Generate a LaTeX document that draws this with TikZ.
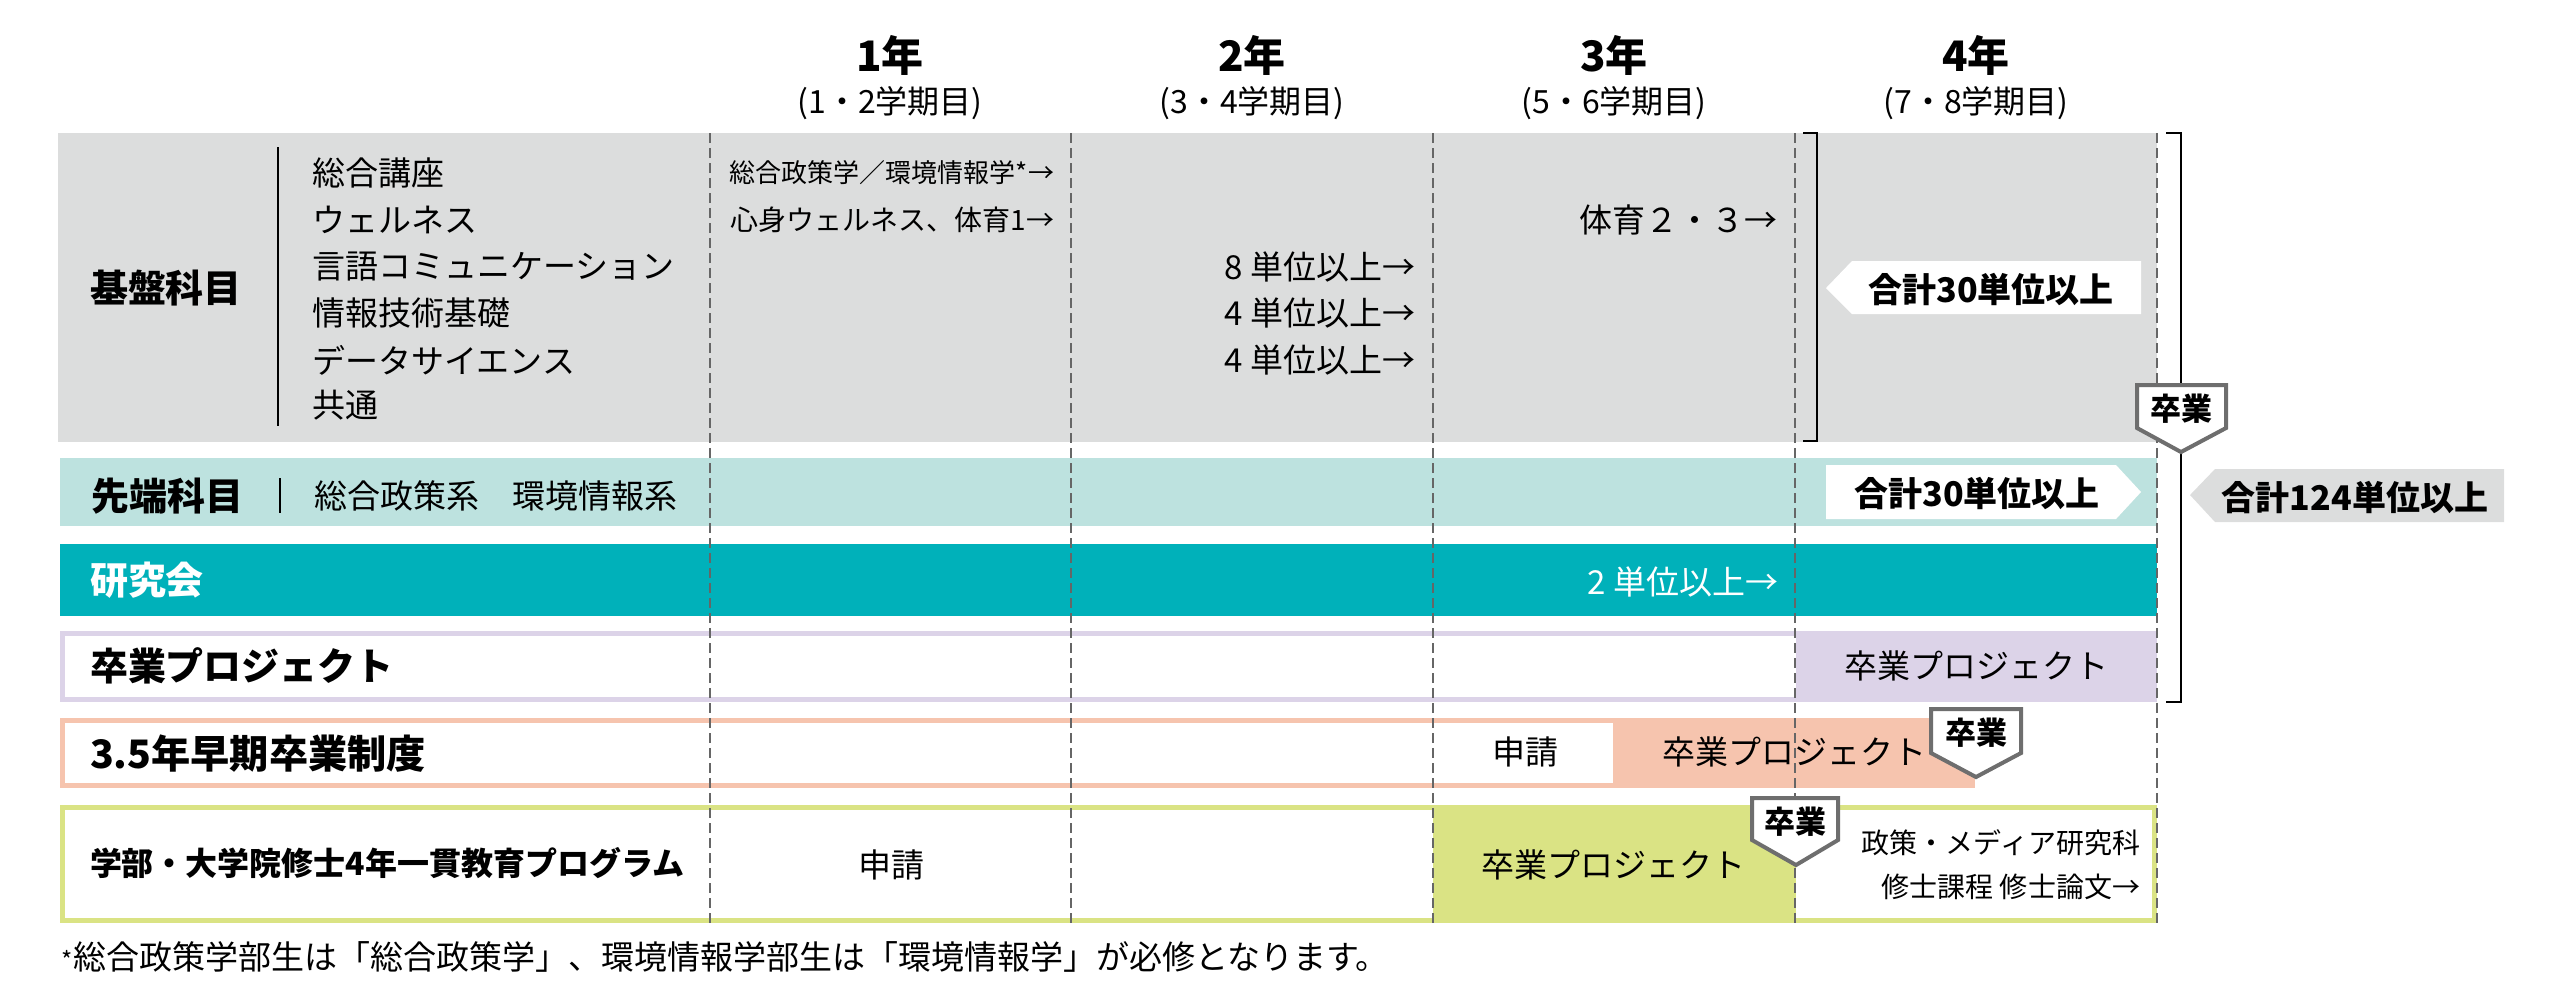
\documentclass[tikz,border=0pt]{standalone}
\usepackage{fontspec}
\setmainfont{Noto Sans CJK JP}
\usepackage{tikz}
\definecolor{kibangray}{HTML}{DCDDDD}
\definecolor{sentanteal}{HTML}{BDE2DF}
\definecolor{kenkyuteal}{HTML}{00B1BA}
\definecolor{sotsulav}{HTML}{DCD3E8}
\definecolor{sokisalmon}{HTML}{F6C4AE}
\definecolor{ikkangreen}{HTML}{DAE384}
\definecolor{badgegray}{HTML}{6E6E6E}

\begin{document}
\begin{tikzpicture}[x=0.25pt,y=-0.25pt]
      \tikzstyle{every node}=[inner sep=0pt,outer sep=0pt]
      \tikzstyle{rowlabel}=[anchor=west,font=\fontsize{9.5}{11}\selectfont\bfseries]
      \tikzstyle{item}=[font=\fontsize{8.25}{10}\selectfont]
      \tikzstyle{small}=[font=\fontsize{7}{9}\selectfont]
      \tikzstyle{yearhead}=[font=\fontsize{10.5}{12}\selectfont\bfseries]
      \tikzstyle{term}=[font=\fontsize{8}{10}\selectfont]
      \tikzstyle{total}=[font=\fontsize{8.5}{10}\selectfont\bfseries]
      \tikzstyle{badge}=[draw=badgegray,fill=white,line width=1pt,line join=miter]
      \tikzstyle{badgetext}=[font=\fontsize{7.75}{9}\selectfont\bfseries]
      \tikzstyle{colline}=[draw=black!60,line width=0.35pt,dash pattern=on 2.5pt off 1.25pt]
      \tikzstyle{bracket}=[draw=black,line width=0.45pt]

      \useasboundingbox (0,0) rectangle (2560,1001);

      \node[yearhead] (y1) at (890,55) {1年};
      \node[yearhead] (y2) at (1252,55) {2年};
      \node[yearhead] (y3) at (1614,55) {3年};
      \node[yearhead] (y4) at (1976,55) {4年};

      \node[term] (t1) at (890,103) {(1・2学期目)};
      \node[term] (t2) at (1252,103) {(3・4学期目)};
      \node[term] (t3) at (1614,103) {(5・6学期目)};
      \node[term] (t4) at (1976,103) {(7・8学期目)};

      \fill[kibangray] (58,133) rectangle (2157,442);
      \fill[sentanteal] (60,458) rectangle (2157,526);
      \fill[kenkyuteal] (60,544) rectangle (2157,616);
      \fill[sotsulav] (60,631) rectangle (2157,702);
      \fill[white] (65,636) rectangle (1796,697);
      \fill[sokisalmon] (60,718) rectangle (1975,788);
      \fill[white] (65,723) rectangle (1613,783);
      \fill[ikkangreen] (60,805) rectangle (2157,923);
      \fill[white] (65,810) rectangle (1433,918);
      \fill[white] (1796,810) rectangle (2152,918);

      \draw[colline] (710,133) -- (710,923);
      \draw[colline] (1071,133) -- (1071,923);
      \draw[colline] (1433,133) -- (1433,923);
      \draw[colline] (1795,133) -- (1795,923);
      \draw[colline] (2157,133) -- (2157,923);

      \node[rowlabel] (kiban) at (90,288) {基盤科目};
      \draw[bracket] (278,147) -- (278,426);
      \node[item,anchor=west] (k1) at (312,173) {総合講座};
      \node[item,anchor=west] (k2) at (312,220) {ウェルネス};
      \node[item,anchor=west] (k3) at (312,267) {言語コミュニケーション};
      \node[item,anchor=west] (k4) at (312,313) {情報技術基礎};
      \node[item,anchor=west] (k5) at (312,360) {データサイエンス};
      \node[item,anchor=west] (k6) at (312,405) {共通};

      \node[small,anchor=east,font=\fontsize{6.5}{8}\selectfont] (r1) at (1054,173) {総合政策学／環境情報学*→};
      \node[small,anchor=east] (r2) at (1054,220) {心身ウェルネス、体育1→};
      \node[item,anchor=east] (r3) at (1777,220) {体育２・３→};
      \node[item,anchor=east] (r4) at (1415,267) {8 単位以上→};
      \node[item,anchor=east] (r5) at (1415,313) {4 単位以上→};
      \node[item,anchor=east] (r6) at (1415,360) {4 単位以上→};

      \draw[bracket] (1803,133) -- (1817,133) -- (1817,441) -- (1803,441);
      \draw[bracket] (2166,133) -- (2181,133) -- (2181,702) -- (2166,702);

      \fill[white] (1826,288) -- (1852,261) -- (2141,261) -- (2141,314) -- (1852,314) -- cycle;
      \node[total] (kibantotal) at (1991,289) {合計30単位以上};

      \node[rowlabel] (sentan) at (92,496) {先端科目};
      \draw[bracket] (280,478) -- (280,513);
      \node[item,anchor=west] (s1) at (314,496) {総合政策系　環境情報系};
      \fill[white] (1826,465) -- (2116,465) -- (2141,492) -- (2116,519) -- (1826,519) -- cycle;
      \node[total] (sentantotal) at (1977,493) {合計30単位以上};
      \fill[kibangray] (2190,495) -- (2215,469) -- (2504,469) -- (2504,522) -- (2215,522) -- cycle;
      \node[total] (alltotal) at (2355,497) {合計124単位以上};

      \node[rowlabel,text=white] (kenkyu) at (90,580) {研究会};
      \node[item,anchor=east,text=white] (ke1) at (1778,582) {2 単位以上→};

      \node[rowlabel] (sotsu) at (90,666) {卒業プロジェクト};
      \node[item] (so1) at (1976,666) {卒業プロジェクト};

      \node[rowlabel,font=\fontsize{9.8}{11}\selectfont\bfseries] (soki) at (90,754) {3.5年早期卒業制度};
      \node[item] (sk1) at (1525,752) {申請};
      \node[item] (sk2) at (1794,752) {卒業プロジェクト};

      \node[rowlabel,font=\fontsize{8}{10}\selectfont\bfseries] (ikkan) at (90,863) {学部・大学院修士4年一貫教育プログラム};
      \node[item] (ik1) at (891,865) {申請};
      \node[item] (ik2) at (1613,865) {卒業プロジェクト};
      \node[small,anchor=east] (ik3) at (2140,843) {政策・メディア研究科};
      \node[small,anchor=east] (ik4) at (2140,887) {修士課程 修士論文→};

      \draw[badge] (2137,385) -- (2226,385) -- (2226,428) -- (2181,452) -- (2137,428) -- cycle;
      \node[badgetext] (grad) at (2181,409) {卒業};
      \draw[badge] (1931,709) -- (2021,709) -- (2021,753) -- (1976,777) -- (1931,753) -- cycle;
      \node[badgetext] (gradsoki) at (1976,733) {卒業};
      \draw[badge] (1752,798) -- (1838,798) -- (1838,840) -- (1796,865) -- (1752,840) -- cycle;
      \node[badgetext] (gradikkan) at (1795,822) {卒業};

      \node[item,anchor=west] (note) at (62,957) {{\fontsize{6}{7}\selectfont *}総合政策学部生は「総合政策学」、環境情報学部生は「環境情報学」が必修となります。};
    \end{tikzpicture}
\end{document}
